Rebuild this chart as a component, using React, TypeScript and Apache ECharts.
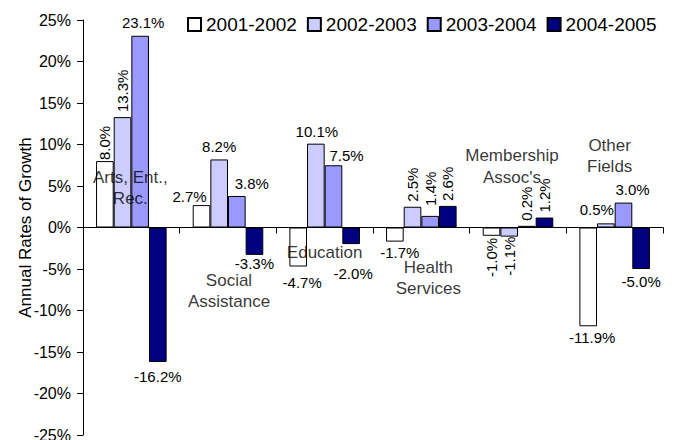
import React, { useEffect, useRef } from "react";
import * as echarts from "echarts";

// Subsector names (the \n is where each name wraps inside the plot)
const categories = [
  "Arts, Ent.,\nRec.",
  "Social\nAssistance",
  "Education",
  "Health\nServices",
  "Membership\nAssoc's",
  "Other\nFields",
];

const periods = ["2001-2002", "2002-2003", "2003-2004", "2004-2005"];

// Annual growth rates, in percent, one array per period
const growth0102 = [8.0, 2.7, -4.7, -1.7, -1.0, -11.9];
const growth0203 = [13.3, 8.2, 10.1, 2.5, -1.1, 0.5];
const growth0304 = [23.1, 3.8, 7.5, 1.4, 0.2, 3.0];
const growth0405 = [-16.2, -3.3, -2.0, 2.6, 1.2, -5.0];

const seriesValues = [growth0102, growth0203, growth0304, growth0405];

// Value axis ticks
const yMin = -25;
const yMax = 25;
const yStep = 5;

const colors = ["#FFFFFF", "#CCCCFF", "#9999FF", "#000080"];
const FONT = "'Liberation Sans', Arial, Helvetica, sans-serif";

// Label placement per bar: rotated or not, horizontal nudge, gap from bar end
type Place = { rot?: boolean; dx?: number; dist?: number };
const labelPlaces: Place[][] = [
  [{ rot: true, dx: -3, dist: 4 }, { dx: -12, dist: 1.5 }, { dx: 4, dist: 8 }, { dx: 5, dist: 3 }, { rot: true, dist: 2 }, { dx: 4, dist: 3.5 }],
  [{ rot: true, dist: 5 }, { dist: 5 }, { dx: 1, dist: 5 }, { rot: true, dist: 5 }, { rot: true, dx: 2, dist: 2 }, { dx: -9, dist: 6 }],
  [{ dx: 3, dist: 5.5 }, { dx: 15, dist: 4.5 }, { dx: 13, dist: 2.5 }, { rot: true, dx: 1, dist: 9 }, { rot: true, dx: 1, dist: 4 }, { dx: 9, dist: 6 }],
  [{ dist: 7.5 }, { dist: 1.5 }, { dx: 2, dist: 21.5 }, { rot: true, dx: 1, dist: 4 }, { rot: true, dx: 2, dist: 3 }, { dist: 4.5 }],
];

// Where each subsector name sits: value-axis level and horizontal nudge
const nameLevels = [4.76, -7.65, -3.07, -6.08, 7.35, 8.6];
const nameNudges = [-1, 1, 0, 7, -6, -5];

function barLabel(v: number, p: Place) {
  const neg = v < 0;
  const base = {
    show: true,
    formatter: () => v.toFixed(1) + "%",
    color: "#000",
    fontSize: 15,
    fontFamily: FONT,
    position: neg ? "bottom" : "top",
    distance: p.dist ?? 5,
    offset: [p.dx ?? 0, 0],
  };
  if (p.rot) {
    return {
      ...base,
      rotate: 90,
      align: neg ? "right" : "left",
      verticalAlign: "middle",
    };
  }
  return base;
}

export default function App() {
  const ref = useRef<HTMLDivElement>(null);

  useEffect(() => {
    if (!ref.current) return;
    const chart = echarts.init(ref.current, undefined, { renderer: "svg" });

    const bars = periods.map((name, si) => ({
      name,
      type: "bar",
      barGap: "0%",
      barCategoryGap: "27%",
      itemStyle: { color: colors[si], borderColor: "#000", borderWidth: 1 },
      data: seriesValues[si].map((v, ci) => ({
        value: v,
        label: barLabel(v, labelPlaces[si][ci]),
      })),
    }));

    const names = {
      name: "names",
      type: "scatter",
      symbolSize: 0,
      silent: true,
      z: 5,
      data: categories.map((c, i) => ({
        value: [i, nameLevels[i]],
        label: {
          show: true,
          position: "inside",
          formatter: c,
          offset: [nameNudges[i], 0],
          color: "#000",
          fontSize: 17,
          lineHeight: 21.5,
          fontFamily: FONT,
          align: "center",
          verticalAlign: "middle",
        },
      })),
    };

    chart.setOption({
      animation: false,
      textStyle: { fontFamily: FONT, color: "#000" },
      grid: {
        left: 83,
        right: 15,
        top: 20,
        bottom: 5,
        containLabel: false,
        outerBoundsMode: "none",
      },
      legend: {
        data: periods,
        left: 187,
        top: 15,
        padding: 0,
        icon: "rect",
        itemWidth: 13,
        itemHeight: 13,
        itemGap: 10,
        textStyle: { fontSize: 19, color: "#000", fontFamily: FONT },
      },
      xAxis: {
        type: "category",
        data: categories,
        axisLine: { onZero: true, lineStyle: { color: "#000", width: 1 } },
        axisTick: { show: true, interval: 0, length: 6, lineStyle: { color: "#000" } },
        axisLabel: { show: false },
        splitLine: { show: false },
      },
      yAxis: {
        type: "value",
        min: yMin,
        max: yMax,
        interval: yStep,
        name: "Annual Rates of Growth",
        nameLocation: "middle",
        nameGap: 49,
        nameMoveOverlap: false,
        nameTextStyle: { fontSize: 17, color: "#000", fontFamily: FONT },
        axisLine: { show: true, lineStyle: { color: "#000", width: 1 } },
        axisTick: { show: true, length: 6, lineStyle: { color: "#000" } },
        axisLabel: {
          formatter: (v: number) => v + "%",
          fontSize: 16,
          color: "#000",
          margin: 12,
          fontFamily: FONT,
        },
        splitLine: { show: false },
      },
      series: [...bars, names],
    });

    return () => chart.dispose();
  }, []);

  return (
    <div
      ref={ref}
      style={{ position: "fixed", left: 0, top: 0, width: 678, height: 440, background: "#fff" }}
    />
  );
}
